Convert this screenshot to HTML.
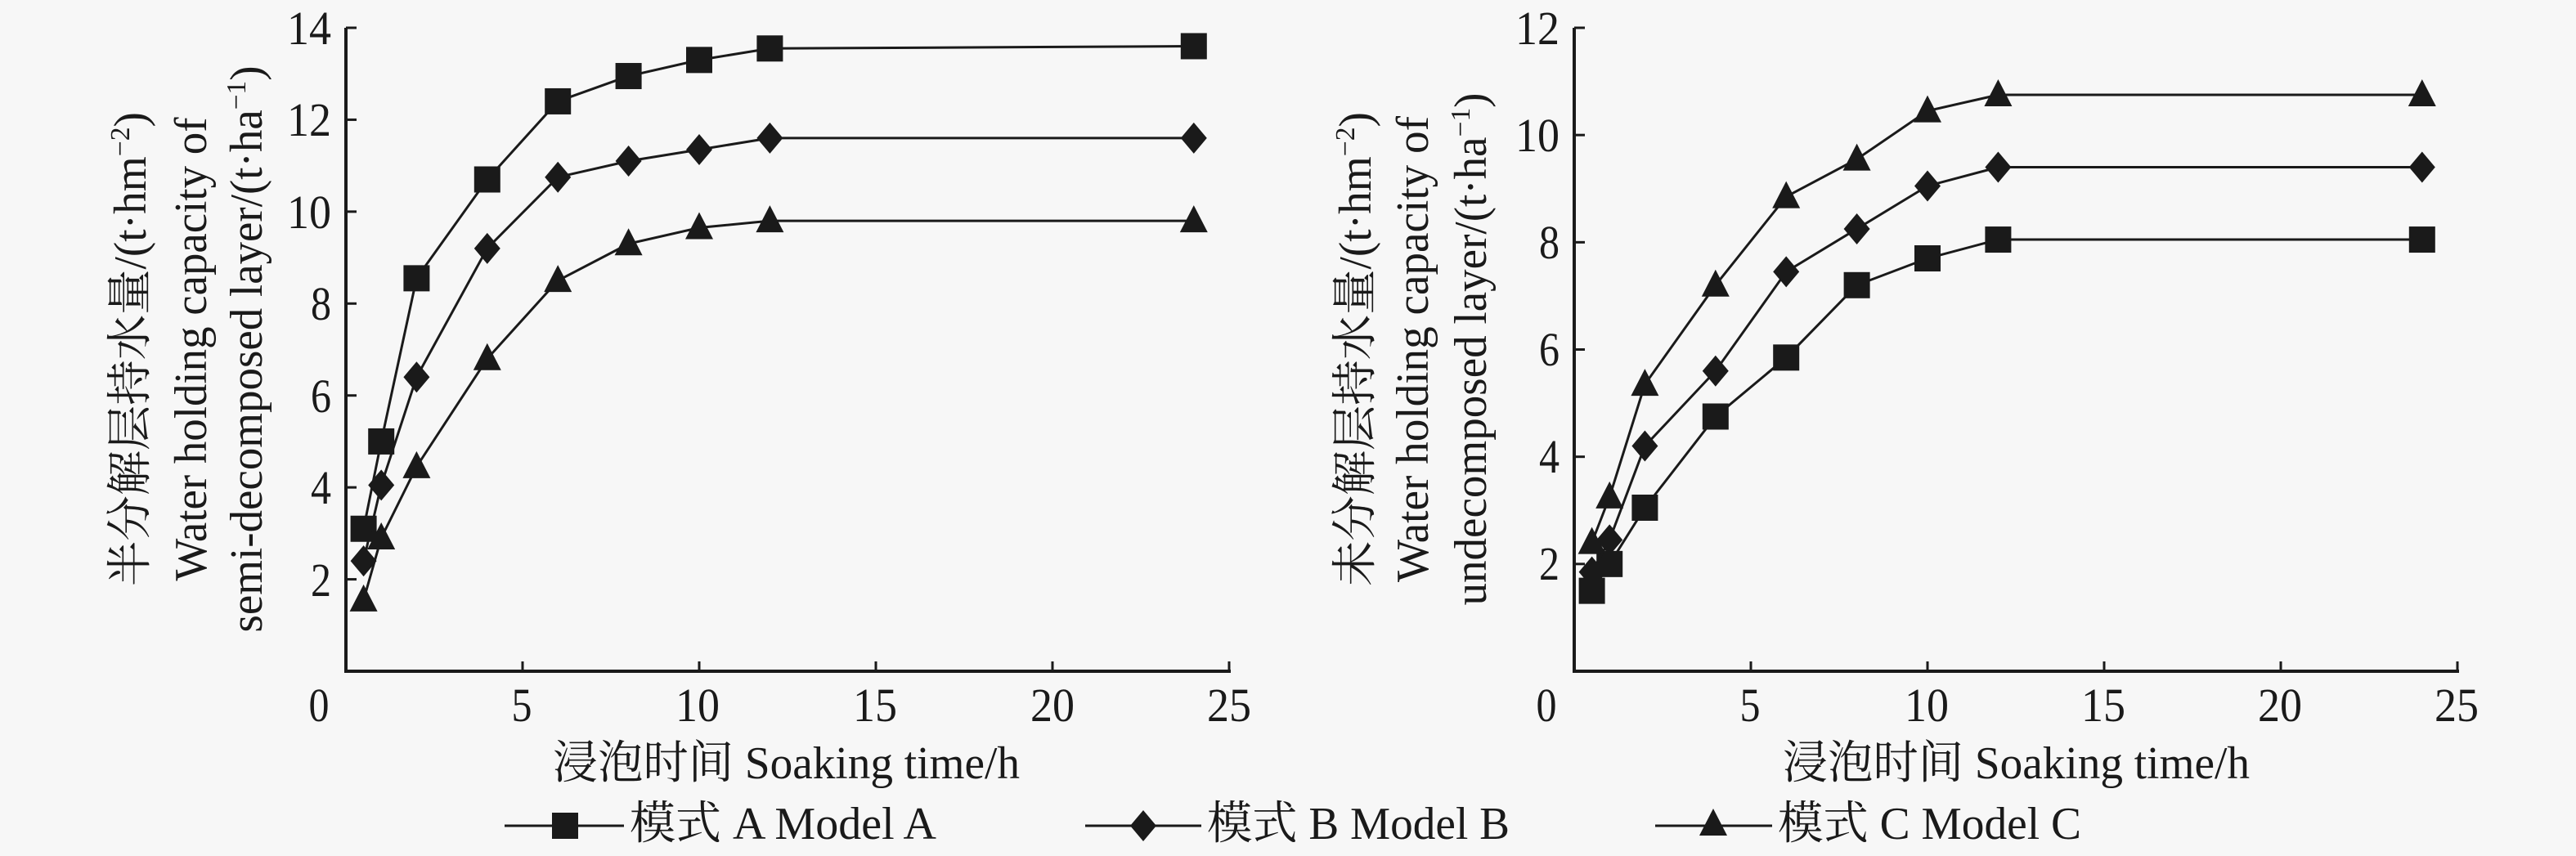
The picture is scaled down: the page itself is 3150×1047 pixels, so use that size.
<!DOCTYPE html>
<html><head><meta charset="utf-8"><style>
html,body{margin:0;padding:0;background:#f7f7f7;}
svg{display:block;}
text{font-family:"Liberation Serif","Noto Serif CJK SC",serif;fill:#1a1a1a;}
</style></head><body>
<svg id="s" width="3150" height="1047" viewBox="0 0 3150 1047" xmlns="http://www.w3.org/2000/svg" font-family="Liberation Serif, Noto Serif CJK SC, serif">
<rect width="3150" height="1047" fill="#f7f7f7"/>
<g id="g"></g>
<g font-size="58" text-anchor="end">
<text x="405" y="54" textLength="54" lengthAdjust="spacingAndGlyphs">14</text>
<text x="405" y="166" textLength="54" lengthAdjust="spacingAndGlyphs">12</text>
<text x="405" y="279" textLength="54" lengthAdjust="spacingAndGlyphs">10</text>
<text x="405" y="391" textLength="25" lengthAdjust="spacingAndGlyphs">8</text>
<text x="405" y="504" textLength="25" lengthAdjust="spacingAndGlyphs">6</text>
<text x="405" y="616" textLength="25" lengthAdjust="spacingAndGlyphs">4</text>
<text x="405" y="729" textLength="25" lengthAdjust="spacingAndGlyphs">2</text>
</g>
<g font-size="58" text-anchor="middle">
<text x="390" y="882" textLength="25" lengthAdjust="spacingAndGlyphs">0</text>
<text x="638" y="882" textLength="25" lengthAdjust="spacingAndGlyphs">5</text>
<text x="853" y="882" textLength="54" lengthAdjust="spacingAndGlyphs">10</text>
<text x="1070" y="882" textLength="54" lengthAdjust="spacingAndGlyphs">15</text>
<text x="1287" y="882" textLength="54" lengthAdjust="spacingAndGlyphs">20</text>
<text x="1503" y="882" textLength="54" lengthAdjust="spacingAndGlyphs">25</text>
</g>
<g font-size="58" text-anchor="end">
<text x="1907" y="54" textLength="54" lengthAdjust="spacingAndGlyphs">12</text>
<text x="1907" y="185" textLength="54" lengthAdjust="spacingAndGlyphs">10</text>
<text x="1907" y="316" textLength="25" lengthAdjust="spacingAndGlyphs">8</text>
<text x="1907" y="447" textLength="25" lengthAdjust="spacingAndGlyphs">6</text>
<text x="1907" y="578" textLength="25" lengthAdjust="spacingAndGlyphs">4</text>
<text x="1907" y="709" textLength="25" lengthAdjust="spacingAndGlyphs">2</text>
</g>
<g font-size="58" text-anchor="middle">
<text x="1891" y="882" textLength="25" lengthAdjust="spacingAndGlyphs">0</text>
<text x="2140" y="882" textLength="25" lengthAdjust="spacingAndGlyphs">5</text>
<text x="2356" y="882" textLength="54" lengthAdjust="spacingAndGlyphs">10</text>
<text x="2572" y="882" textLength="54" lengthAdjust="spacingAndGlyphs">15</text>
<text x="2788" y="882" textLength="54" lengthAdjust="spacingAndGlyphs">20</text>
<text x="3004" y="882" textLength="54" lengthAdjust="spacingAndGlyphs">25</text>
</g>
<g font-size="56">
<text x="676" y="952" textLength="571" lengthAdjust="spacingAndGlyphs">浸泡时间 Soaking time/h</text>
<text x="2180" y="952" textLength="571" lengthAdjust="spacingAndGlyphs">浸泡时间 Soaking time/h</text>
</g>
<g font-size="56" text-anchor="middle">
<text transform="translate(178,427) rotate(-90)" textLength="580" lengthAdjust="spacingAndGlyphs">半分解层持水量/(t·hm<tspan dy="-20" font-size="34">−2</tspan><tspan dy="20">)</tspan></text>
<text transform="translate(252,427) rotate(-90)" textLength="567" lengthAdjust="spacingAndGlyphs">Water holding capacity of</text>
<text transform="translate(320,427) rotate(-90)" textLength="693" lengthAdjust="spacingAndGlyphs">semi-decomposed layer/(t·ha<tspan dy="-20" font-size="34">−1</tspan><tspan dy="20">)</tspan></text>
<text transform="translate(1676,427) rotate(-90)" textLength="580" lengthAdjust="spacingAndGlyphs">未分解层持水量/(t·hm<tspan dy="-20" font-size="34">−2</tspan><tspan dy="20">)</tspan></text>
<text transform="translate(1746,427) rotate(-90)" textLength="570" lengthAdjust="spacingAndGlyphs">Water holding capacity of</text>
<text transform="translate(1817,427) rotate(-90)" textLength="627" lengthAdjust="spacingAndGlyphs">undecomposed layer/(t·ha<tspan dy="-20" font-size="34">−1</tspan><tspan dy="20">)</tspan></text>
</g>
<g font-size="56">
<text x="770" y="1026" textLength="375" lengthAdjust="spacingAndGlyphs">模式 A Model A</text>
<text x="1476" y="1026" textLength="370" lengthAdjust="spacingAndGlyphs">模式 B Model B</text>
<text x="2174" y="1026" textLength="371" lengthAdjust="spacingAndGlyphs">模式 C Model C</text>
</g>
</svg>
<script>
(function(){
var NS="http://www.w3.org/2000/svg",g=document.getElementById("g");
function el(t,a){var e=document.createElementNS(NS,t);for(var k in a)e.setAttribute(k,a[k]);g.appendChild(e);return e;}
function line(x1,y1,x2,y2,w){el("line",{x1:x1,y1:y1,x2:x2,y2:y2,stroke:"#1a1a1a","stroke-width":w||3});}
function marker(t,x,y){
 if(t==0) el("rect",{x:x-16,y:y-16,width:32,height:32,fill:"#1a1a1a"});
 else if(t==1) el("polygon",{points:(x)+","+(y-19)+" "+(x+16)+","+y+" "+x+","+(y+19)+" "+(x-16)+","+y,fill:"#1a1a1a"});
 else el("polygon",{points:x+","+(y-19)+" "+(x+17)+","+(y+14)+" "+(x-17)+","+(y+14),fill:"#1a1a1a"});
}
var xs=[0.5,1,2,4,6,8,10,12,24];
function chart(ax,x25,ytop,ymax,nt,data){
 var y0=821, sx=(x25-ax)/25, sy=(y0-ytop)/ymax;
 line(ax,ytop,ax,y0+2,4); line(ax-2,y0,x25+2,y0,4);
 for(var i=1;i<=nt;i++){var yy=y0-i*(ymax/nt)*sy;line(ax,yy,ax+13,yy,3);}
 for(var j=5;j<=25;j+=5){var xx=ax+j*sx;line(xx,y0,xx,y0-12,3);}
 data.forEach(function(d,t){
  var pts=d.map(function(v,i){return [ax+xs[i]*sx,y0-v*sy];});
  el("polyline",{points:pts.map(function(p){return p.join(",")}).join(" "),fill:"none",stroke:"#1a1a1a","stroke-width":3});
  pts.forEach(function(p){marker(t,p[0],p[1]);});
 });
}
chart(423,1503,34,14,7,[
 [3.1,5.0,8.55,10.7,12.4,12.95,13.3,13.55,13.6],
 [2.4,4.05,6.4,9.2,10.75,11.1,11.35,11.6,11.6],
 [1.55,2.9,4.45,6.8,8.5,9.3,9.65,9.8,9.8]]);
chart(1925,3005,34,12,6,[
 [1.5,2.0,3.05,4.75,5.85,7.2,7.7,8.05,8.05],
 [1.85,2.45,4.2,5.6,7.45,8.25,9.05,9.4,9.4],
 [2.4,3.25,5.35,7.2,8.85,9.55,10.45,10.75,10.75]]);
line(617,1010,763,1010,3); marker(0,691,1010);
line(1327,1010,1469,1010,3); marker(1,1398,1010);
line(2024,1010,2167,1010,3); marker(2,2095,1008);
})();
</script>
</body></html>
